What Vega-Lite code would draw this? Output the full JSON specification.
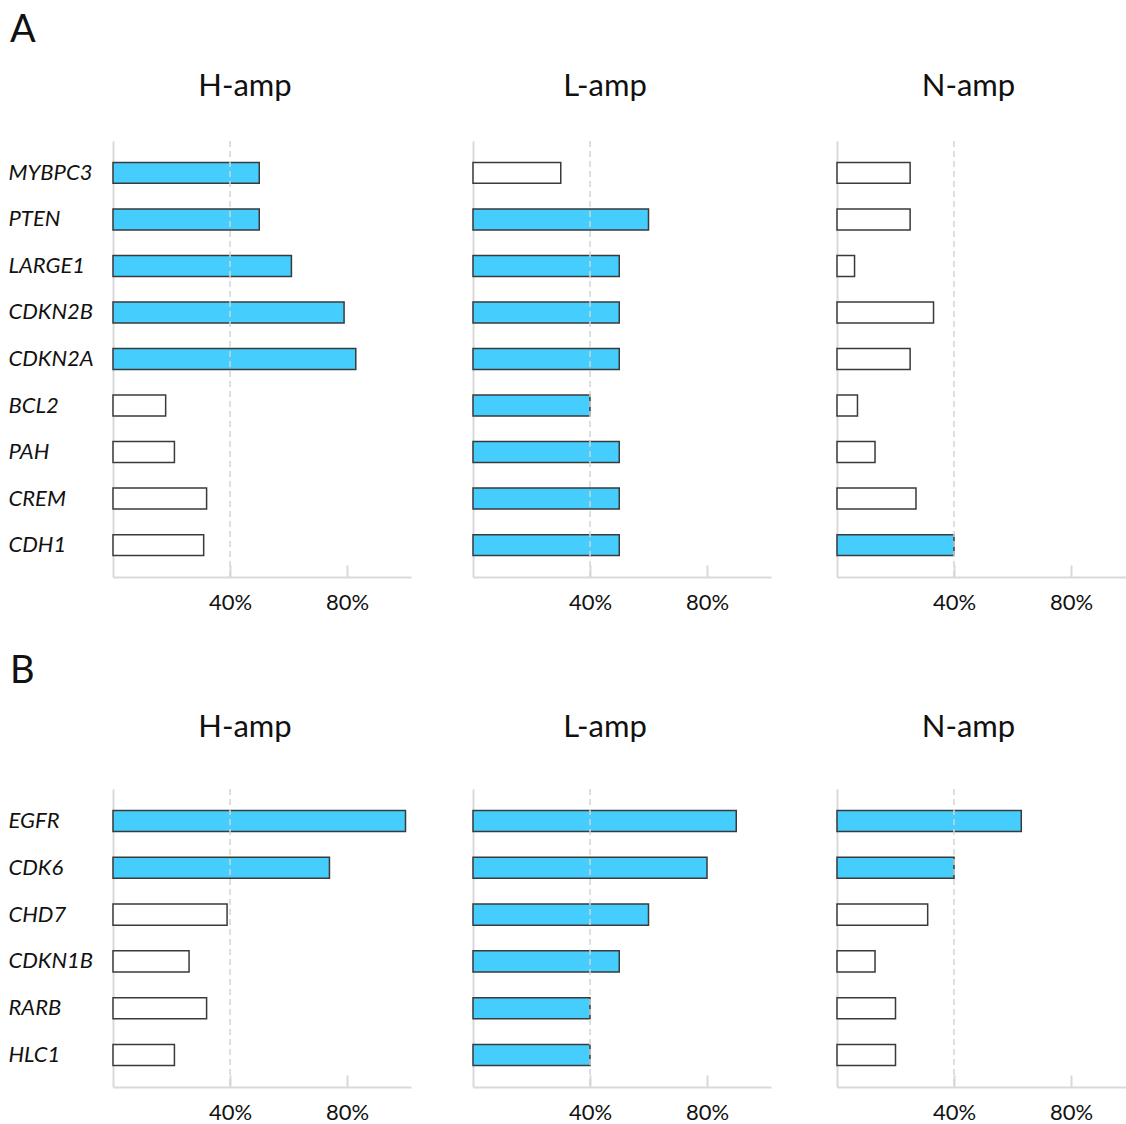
{
  "$schema": "https://vega.github.io/schema/vega-lite/v6.json",
  "padding": {"left": 8, "top": 12, "right": 0, "bottom": 0},
  "data": {"values": [
    {"s": "A", "p": "H", "g": "MYBPC3", "v": 0.50},
    {"s": "A", "p": "H", "g": "PTEN", "v": 0.50},
    {"s": "A", "p": "H", "g": "LARGE1", "v": 0.61},
    {"s": "A", "p": "H", "g": "CDKN2B", "v": 0.79},
    {"s": "A", "p": "H", "g": "CDKN2A", "v": 0.83},
    {"s": "A", "p": "H", "g": "BCL2", "v": 0.18},
    {"s": "A", "p": "H", "g": "PAH", "v": 0.21},
    {"s": "A", "p": "H", "g": "CREM", "v": 0.32},
    {"s": "A", "p": "H", "g": "CDH1", "v": 0.31},
    {"s": "A", "p": "L", "g": "MYBPC3", "v": 0.30},
    {"s": "A", "p": "L", "g": "PTEN", "v": 0.60},
    {"s": "A", "p": "L", "g": "LARGE1", "v": 0.50},
    {"s": "A", "p": "L", "g": "CDKN2B", "v": 0.50},
    {"s": "A", "p": "L", "g": "CDKN2A", "v": 0.50},
    {"s": "A", "p": "L", "g": "BCL2", "v": 0.40},
    {"s": "A", "p": "L", "g": "PAH", "v": 0.50},
    {"s": "A", "p": "L", "g": "CREM", "v": 0.50},
    {"s": "A", "p": "L", "g": "CDH1", "v": 0.50},
    {"s": "A", "p": "N", "g": "MYBPC3", "v": 0.25},
    {"s": "A", "p": "N", "g": "PTEN", "v": 0.25},
    {"s": "A", "p": "N", "g": "LARGE1", "v": 0.06},
    {"s": "A", "p": "N", "g": "CDKN2B", "v": 0.33},
    {"s": "A", "p": "N", "g": "CDKN2A", "v": 0.25},
    {"s": "A", "p": "N", "g": "BCL2", "v": 0.07},
    {"s": "A", "p": "N", "g": "PAH", "v": 0.13},
    {"s": "A", "p": "N", "g": "CREM", "v": 0.27},
    {"s": "A", "p": "N", "g": "CDH1", "v": 0.40},
    {"s": "B", "p": "H", "g": "EGFR", "v": 1.00},
    {"s": "B", "p": "H", "g": "CDK6", "v": 0.74},
    {"s": "B", "p": "H", "g": "CHD7", "v": 0.39},
    {"s": "B", "p": "H", "g": "CDKN1B", "v": 0.26},
    {"s": "B", "p": "H", "g": "RARB", "v": 0.32},
    {"s": "B", "p": "H", "g": "HLC1", "v": 0.21},
    {"s": "B", "p": "L", "g": "EGFR", "v": 0.90},
    {"s": "B", "p": "L", "g": "CDK6", "v": 0.80},
    {"s": "B", "p": "L", "g": "CHD7", "v": 0.60},
    {"s": "B", "p": "L", "g": "CDKN1B", "v": 0.50},
    {"s": "B", "p": "L", "g": "RARB", "v": 0.40},
    {"s": "B", "p": "L", "g": "HLC1", "v": 0.40},
    {"s": "B", "p": "N", "g": "EGFR", "v": 0.63},
    {"s": "B", "p": "N", "g": "CDK6", "v": 0.40},
    {"s": "B", "p": "N", "g": "CHD7", "v": 0.31},
    {"s": "B", "p": "N", "g": "CDKN1B", "v": 0.13},
    {"s": "B", "p": "N", "g": "RARB", "v": 0.20},
    {"s": "B", "p": "N", "g": "HLC1", "v": 0.20}
  ]},
  "spacing": 40,
  "vconcat": [
    {
      "title": {"text": "A", "anchor": "start", "frame": "bounds", "fontSize": 38, "dx": 2, "offset": 21},
      "spacing": 62,
      "bounds": "flush",
      "hconcat": [
        {
          "width": 298, "height": 436,
          "title": {"text": "H-amp", "offset": 37},
          "transform": [{"filter": "datum.s == 'A' && datum.p == 'H'"}],
          "layer": [
            {"mark": {"type": "bar", "stroke": "#3a3a3a", "strokeWidth": 1.5},
             "encoding": {
               "y": {"field": "g", "type": "nominal", "sort": null, "scale": {"paddingInner": 0.55, "paddingOuter": 0.46},
                     "axis": {"labels": true, "labelAlign": "left", "labelPadding": 105, "labelFontSize": 22, "labelFontStyle": "italic"}},
               "x": {"field": "v", "type": "quantitative", "scale": {"domain": [0, 1.0188], "nice": false}, "axis": {"values": [0.4, 0.8], "format": ".0%"}},
               "fill": {"condition": {"test": "datum.v >= 0.4", "value": "#45CEFD"}, "value": "white"}}},
            {"data": {"values": [{}]}, "mark": {"type": "rule", "color": "#d4d4d4", "strokeDash": [6, 4], "strokeWidth": 1.5},
             "encoding": {"x": {"datum": 0.4, "type": "quantitative"}}}
          ]
        },
        {
          "spacing": 66,
          "bounds": "flush",
          "hconcat": [
            {
              "width": 298, "height": 436,
              "title": {"text": "L-amp", "offset": 37},
              "transform": [{"filter": "datum.s == 'A' && datum.p == 'L'"}],
              "layer": [
                {"mark": {"type": "bar", "stroke": "#3a3a3a", "strokeWidth": 1.5},
                 "encoding": {
                   "y": {"field": "g", "type": "nominal", "sort": null, "scale": {"paddingInner": 0.55, "paddingOuter": 0.46}},
                   "x": {"field": "v", "type": "quantitative", "scale": {"domain": [0, 1.0188], "nice": false}, "axis": {"values": [0.4, 0.8], "format": ".0%"}},
                   "fill": {"condition": {"test": "datum.v >= 0.4", "value": "#45CEFD"}, "value": "white"}}},
                {"data": {"values": [{}]}, "mark": {"type": "rule", "color": "#d4d4d4", "strokeDash": [6, 4], "strokeWidth": 1.5},
                 "encoding": {"x": {"datum": 0.4, "type": "quantitative"}}}
              ]
            },
            {
              "width": 289, "height": 436,
              "title": {"text": "N-amp", "offset": 37, "dx": -13},
              "transform": [{"filter": "datum.s == 'A' && datum.p == 'N'"}],
              "layer": [
                {"mark": {"type": "bar", "stroke": "#3a3a3a", "strokeWidth": 1.5},
                 "encoding": {
                   "y": {"field": "g", "type": "nominal", "sort": null, "scale": {"paddingInner": 0.55, "paddingOuter": 0.46}},
                   "x": {"field": "v", "type": "quantitative", "scale": {"domain": [0, 0.988], "nice": false}, "axis": {"values": [0.4, 0.8], "format": ".0%"}},
                   "fill": {"condition": {"test": "datum.v >= 0.4", "value": "#45CEFD"}, "value": "white"}}},
                {"data": {"values": [{}]}, "mark": {"type": "rule", "color": "#d4d4d4", "strokeDash": [6, 4], "strokeWidth": 1.5},
                 "encoding": {"x": {"datum": 0.4, "type": "quantitative"}}}
              ]
            }
          ]
        }
      ]
    },
    {
      "title": {"text": "B", "anchor": "start", "frame": "bounds", "fontSize": 38, "dx": 2, "offset": 21},
      "spacing": 62,
      "bounds": "flush",
      "hconcat": [
        {
          "width": 298, "height": 298,
          "title": {"text": "H-amp", "offset": 44},
          "transform": [{"filter": "datum.s == 'B' && datum.p == 'H'"}],
          "layer": [
            {"mark": {"type": "bar", "stroke": "#3a3a3a", "strokeWidth": 1.5},
             "encoding": {
               "y": {"field": "g", "type": "nominal", "sort": null, "scale": {"paddingInner": 0.55, "paddingOuter": 0.46},
                     "axis": {"labels": true, "labelAlign": "left", "labelPadding": 105, "labelFontSize": 22, "labelFontStyle": "italic"}},
               "x": {"field": "v", "type": "quantitative", "scale": {"domain": [0, 1.0188], "nice": false}, "axis": {"values": [0.4, 0.8], "format": ".0%"}},
               "fill": {"condition": {"test": "datum.v >= 0.4", "value": "#45CEFD"}, "value": "white"}}},
            {"data": {"values": [{}]}, "mark": {"type": "rule", "color": "#d4d4d4", "strokeDash": [6, 4], "strokeWidth": 1.5},
             "encoding": {"x": {"datum": 0.4, "type": "quantitative"}}}
          ]
        },
        {
          "spacing": 66,
          "bounds": "flush",
          "hconcat": [
            {
              "width": 298, "height": 298,
              "title": {"text": "L-amp", "offset": 44},
              "transform": [{"filter": "datum.s == 'B' && datum.p == 'L'"}],
              "layer": [
                {"mark": {"type": "bar", "stroke": "#3a3a3a", "strokeWidth": 1.5},
                 "encoding": {
                   "y": {"field": "g", "type": "nominal", "sort": null, "scale": {"paddingInner": 0.55, "paddingOuter": 0.46}},
                   "x": {"field": "v", "type": "quantitative", "scale": {"domain": [0, 1.0188], "nice": false}, "axis": {"values": [0.4, 0.8], "format": ".0%"}},
                   "fill": {"condition": {"test": "datum.v >= 0.4", "value": "#45CEFD"}, "value": "white"}}},
                {"data": {"values": [{}]}, "mark": {"type": "rule", "color": "#d4d4d4", "strokeDash": [6, 4], "strokeWidth": 1.5},
                 "encoding": {"x": {"datum": 0.4, "type": "quantitative"}}}
              ]
            },
            {
              "width": 289, "height": 298,
              "title": {"text": "N-amp", "offset": 44, "dx": -13},
              "transform": [{"filter": "datum.s == 'B' && datum.p == 'N'"}],
              "layer": [
                {"mark": {"type": "bar", "stroke": "#3a3a3a", "strokeWidth": 1.5},
                 "encoding": {
                   "y": {"field": "g", "type": "nominal", "sort": null, "scale": {"paddingInner": 0.55, "paddingOuter": 0.46}},
                   "x": {"field": "v", "type": "quantitative", "scale": {"domain": [0, 0.988], "nice": false}, "axis": {"values": [0.4, 0.8], "format": ".0%"}},
                   "fill": {"condition": {"test": "datum.v >= 0.4", "value": "#45CEFD"}, "value": "white"}}},
                {"data": {"values": [{}]}, "mark": {"type": "rule", "color": "#d4d4d4", "strokeDash": [6, 4], "strokeWidth": 1.5},
                 "encoding": {"x": {"datum": 0.4, "type": "quantitative"}}}
              ]
            }
          ]
        }
      ]
    }
  ],
  "config": {
    "font": "Lato",
    "view": {"stroke": null},
    "axis": {"domainColor": "#d9d9d9", "domainWidth": 2, "grid": false, "title": null, "labelColor": "#111", "labelFont": "Lato", "tickColor": "#d9d9d9", "tickWidth": 2},
    "axisX": {"labelFontSize": 22, "tickSize": -12, "labelPadding": 27},
    "axisY": {"ticks": false, "labels": false},
    "title": {"fontSize": 31, "fontWeight": "normal", "font": "Lato", "color": "#111", "baseline": "alphabetic", "dx": -17}
  }
}
